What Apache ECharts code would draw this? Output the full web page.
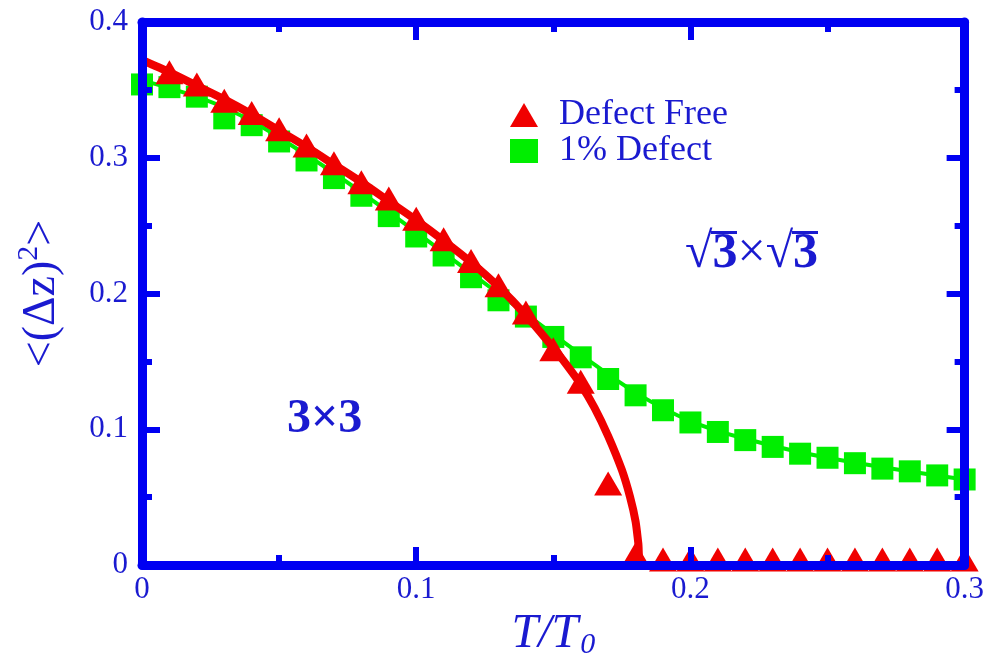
<!DOCTYPE html>
<html>
<head>
<meta charset="utf-8">
<script src="https://cdn.jsdelivr.net/npm/echarts@6/dist/echarts.min.js"></script>
<style>
  html, body { margin: 0; padding: 0; background: #fff; }
  #main { width: 987px; height: 666px; }
</style>
</head>
<body>
<div id="main"></div>
<script>
// T/T0 for the two data sets
const tFree = [0.01, 0.02, 0.03, 0.04, 0.05, 0.06, 0.07, 0.08, 0.09, 0.10,
  0.11, 0.12, 0.13, 0.14, 0.15, 0.16, 0.17, 0.18, 0.19, 0.20,
  0.21, 0.22, 0.23, 0.24, 0.25, 0.26, 0.27, 0.28, 0.29, 0.30];
const defectFree = [0.363, 0.354, 0.342, 0.333, 0.321, 0.309, 0.296, 0.282, 0.270, 0.255,
  0.240, 0.224, 0.206, 0.186, 0.159, 0.135, 0.060, 0.008, 0.004, 0.004,
  0.004, 0.004, 0.004, 0.004, 0.004, 0.004, 0.004, 0.004, 0.004, 0.004];

const tDefect = [0, 0.01, 0.02, 0.03, 0.04, 0.05, 0.06, 0.07, 0.08, 0.09, 0.10,
  0.11, 0.12, 0.13, 0.14, 0.15, 0.16, 0.17, 0.18, 0.19, 0.20,
  0.21, 0.22, 0.23, 0.24, 0.25, 0.26, 0.27, 0.28, 0.29, 0.30];
const defect1 = [0.354, 0.352, 0.345, 0.329, 0.324, 0.312, 0.298, 0.285, 0.272, 0.257, 0.242,
  0.228, 0.212, 0.195, 0.183, 0.168, 0.153, 0.137, 0.125, 0.114, 0.105,
  0.098, 0.092, 0.087, 0.082, 0.079, 0.075, 0.071, 0.069, 0.066, 0.063];

// fitted curves
const tFitFree = [0, 0.01, 0.02, 0.03, 0.04, 0.05, 0.06, 0.07, 0.08, 0.09, 0.10, 0.11, 0.12,
  0.13, 0.14, 0.15, 0.155, 0.16, 0.165, 0.17, 0.175, 0.178, 0.18, 0.181, 0.182, 0.20, 0.25, 0.30];
const fitFree = [0.372, 0.363, 0.353, 0.343, 0.332, 0.320, 0.308, 0.295, 0.282, 0.268, 0.254, 0.239, 0.223,
  0.205, 0.184, 0.160, 0.147, 0.133, 0.116, 0.095, 0.070, 0.050, 0.032, 0.016, 0, 0, 0, 0];

const tFitDefect = [0, 0.03, 0.06, 0.09, 0.12, 0.14, 0.16, 0.18, 0.20, 0.22, 0.25, 0.30];
const fitDefect = [0.357, 0.337, 0.302, 0.260, 0.215, 0.185, 0.155, 0.127, 0.106, 0.093, 0.079, 0.063];

const xTicks = [0, 0.1, 0.2, 0.3];
const yTicks = [0, 0.1, 0.2, 0.3, 0.4];

const BLUE = '#0000f2';
const TXT = '#1a1ad0';
const RED = '#f00000';
const GREEN = '#00ee00';
const SERIF = '"Liberation Serif", "DejaVu Serif", serif';

function pairs(xs, ys) {
  return xs.map((x, i) => [x, ys[i]]);
}

const chart = echarts.init(document.getElementById('main'), null, { renderer: 'canvas' });

const frameAxis = {
  min: 0,
  z: 10,
  axisLine: { show: true, onZero: false, lineStyle: { color: BLUE, width: 9 } },
  axisTick: { show: true, inside: true, length: 18, lineStyle: { color: BLUE, width: 6 } },
  minorTick: { show: true, splitNumber: 2, length: 10, lineStyle: { color: BLUE, width: 6 } },
  splitLine: { show: false },
  axisLabel: { show: false }
};

function tickLabel(v) {
  return xTicks.concat(yTicks).indexOf(v) >= 0 ? String(v) : '';
}

const option = {
  backgroundColor: '#fff',
  animation: false,
  grid: { left: 142, right: 20, top: 22, bottom: 101, containLabel: false },
  xAxis: [
    Object.assign({}, frameAxis, {
      type: 'value', position: 'bottom', max: 0.3, interval: 0.1,
      axisLabel: { show: true, margin: 9, color: TXT, fontSize: 31, fontFamily: SERIF, formatter: tickLabel },
      name: '{i|T/T}{s|0}',
      nameLocation: 'middle',
      nameGap: 38,
      nameTextStyle: {
        rich: {
          i: { fontSize: 48, fontStyle: 'italic', fontFamily: SERIF, color: TXT },
          s: { fontSize: 30, fontStyle: 'italic', fontFamily: SERIF, color: TXT, padding: [22, 0, 0, 2] }
        }
      }
    }),
    Object.assign({}, frameAxis, { type: 'value', position: 'top', max: 0.3, interval: 0.1 })
  ],
  yAxis: [
    Object.assign({}, frameAxis, {
      type: 'value', position: 'left', max: 0.4, interval: 0.1,
      axisLabel: { show: true, margin: 14, color: TXT, fontSize: 31, fontFamily: SERIF, formatter: tickLabel },
      name: '{n|<(Δz)}{p|2}{n|>}',
      nameLocation: 'middle',
      nameRotate: 90,
      nameGap: 72,
      nameTextStyle: {
        rich: {
          n: { fontSize: 46, fontFamily: SERIF, color: TXT },
          p: { fontSize: 30, fontFamily: SERIF, color: TXT, padding: [0, 0, 26, 0] }
        }
      }
    }),
    Object.assign({}, frameAxis, { type: 'value', position: 'right', max: 0.4, interval: 0.1 })
  ],
  legend: {
    orient: 'vertical',
    left: 505,
    top: 92,
    itemWidth: 28,
    itemHeight: 24,
    itemGap: 0,
    textStyle: { color: TXT, fontSize: 36, lineHeight: 30, fontFamily: SERIF, padding: [0, 0, 0, 16] },
    data: [
      { name: 'Defect Free', icon: 'triangle' },
      { name: '1% Defect', icon: 'rect' }
    ]
  },
  series: [
    {
      name: '1% Defect fit',
      type: 'line',
      data: pairs(tFitDefect, fitDefect),
      smooth: 0.4,
      showSymbol: false,
      lineStyle: { color: GREEN, width: 4 },
      z: 2
    },
    {
      name: '1% Defect',
      type: 'scatter',
      data: pairs(tDefect, defect1),
      symbol: 'rect',
      symbolSize: 22,
      itemStyle: { color: GREEN, opacity: 1 },
      z: 3
    },
    {
      name: 'Defect Free',
      type: 'scatter',
      data: pairs(tFree, defectFree),
      symbol: 'triangle',
      symbolSize: [28, 24],
      itemStyle: { color: RED, opacity: 1 },
      z: 4
    },
    {
      name: 'Defect Free fit',
      type: 'line',
      data: pairs(tFitFree, fitFree),
      smooth: 0.25,
      showSymbol: false,
      clip: false,
      lineStyle: { color: RED, width: 8 },
      z: 5
    }
  ],
  graphic: [
    {
      type: 'text', left: 287, top: 396, z: 20,
      style: { text: '3×3', font: 'bold 48px ' + SERIF, fill: TXT }
    },
    {
      type: 'group', left: 685, top: 229, z: 20,
      children: [
        {
          type: 'text', x: 0, y: 0,
          style: {
            text: '{n|√}{b|3}{n|×√}{b|3}',
            fill: TXT,
            rich: {
              n: { fontSize: 50, fontFamily: SERIF, fill: TXT },
              b: { fontSize: 50, fontWeight: 'bold', fontFamily: SERIF, fill: TXT }
            }
          }
        },
        { type: 'rect', shape: { x: 26, y: 2, width: 26, height: 3 }, style: { fill: TXT } },
        { type: 'rect', shape: { x: 107, y: 2, width: 26, height: 3 }, style: { fill: TXT } }
      ]
    }
  ]
};

chart.setOption(option);
</script>
</body>
</html>
